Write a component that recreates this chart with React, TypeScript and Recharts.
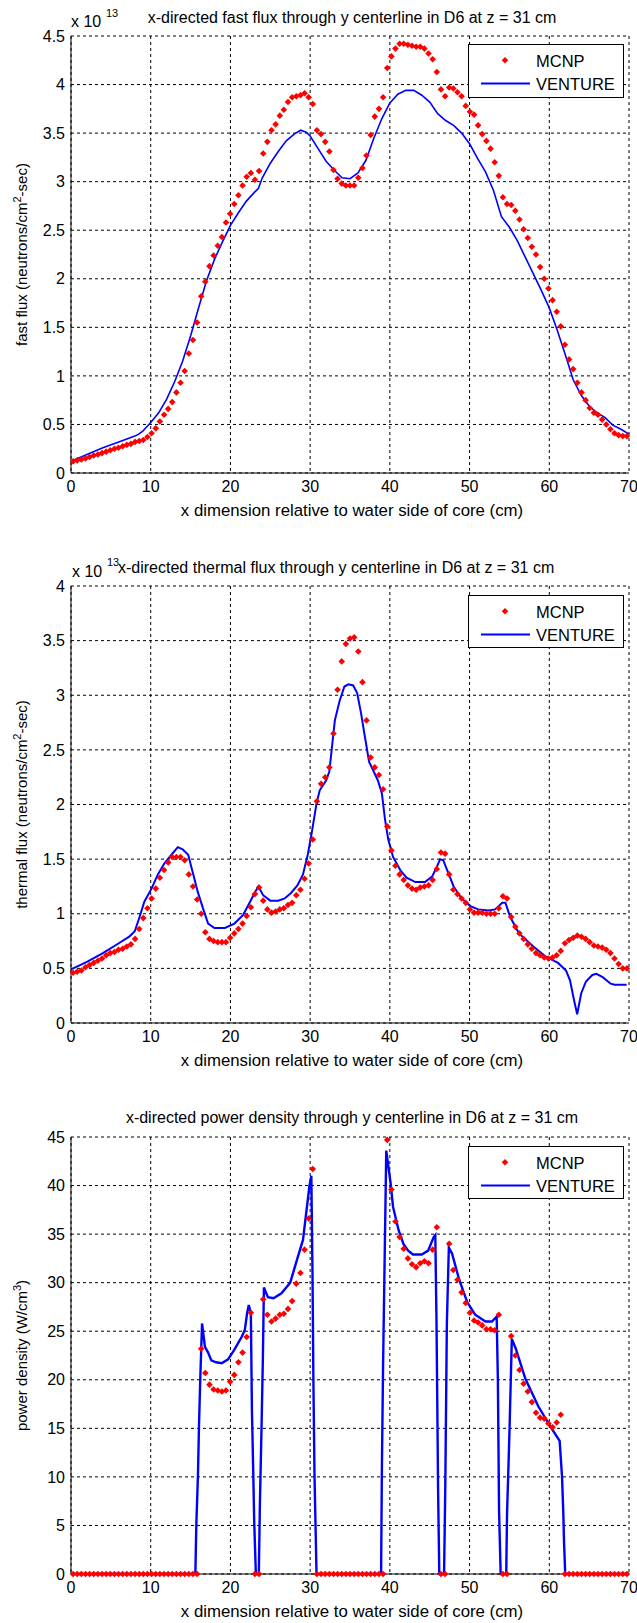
import React from "react";
import { ComposedChart, Line, Scatter, XAxis, YAxis, CartesianGrid, Legend } from "recharts";

// MCNP tally mesh (cm), shared by the three panels
const MCNP_X = [
  0.26, 0.78, 1.30, 1.82, 2.33, 2.85, 3.37, 3.89, 4.41, 4.93,
  5.45, 5.96, 6.48, 7.00, 7.52, 8.04, 8.56, 9.07, 9.59, 10.11,
  10.63, 11.15, 11.67, 12.19, 12.70, 13.22, 13.74, 14.26, 14.78, 15.30,
  15.82, 16.33, 16.85, 17.37, 17.89, 18.41, 18.93, 19.44, 19.96, 20.48,
  21.00, 21.52, 22.04, 22.56, 23.07, 23.59, 24.11, 24.63, 25.15, 25.67,
  26.19, 26.70, 27.22, 27.74, 28.26, 28.78, 29.30, 29.81, 30.33, 30.85,
  31.37, 31.89, 32.41, 32.93, 33.44, 33.96, 34.48, 35.00, 35.52, 36.04,
  36.56, 37.07, 37.59, 38.11, 38.63, 39.15, 39.67, 40.19, 40.70, 41.22,
  41.74, 42.26, 42.78, 43.30, 43.81, 44.33, 44.85, 45.37, 45.89, 46.41,
  46.93, 47.44, 47.96, 48.48, 49.00, 49.52, 50.04, 50.56, 51.07, 51.59,
  52.11, 52.63, 53.15, 53.67, 54.18, 54.70, 55.22, 55.74, 56.26, 56.78,
  57.30, 57.81, 58.33, 58.85, 59.37, 59.89, 60.41, 60.93, 61.44, 61.96,
  62.48, 63.00, 63.52, 64.04, 64.56, 65.07, 65.59, 66.11, 66.63, 67.15,
  67.67, 68.18, 68.70, 69.22, 69.74,
];

// fast flux, x 1e13
const FAST_MCNP = [
  0.12, 0.13, 0.14, 0.15, 0.165, 0.18, 0.19, 0.205, 0.22, 0.235,
  0.25, 0.26, 0.275, 0.29, 0.30, 0.32, 0.33, 0.34, 0.37, 0.41,
  0.46, 0.53, 0.60, 0.66, 0.73, 0.83, 0.93, 1.05, 1.23, 1.37,
  1.55, 1.82, 1.97, 2.13, 2.24, 2.34, 2.43, 2.58, 2.67, 2.77,
  2.86, 2.96, 3.05, 3.09, 3.02, 3.11, 3.29, 3.41, 3.53, 3.59,
  3.68, 3.74, 3.82, 3.87, 3.88, 3.89, 3.91, 3.87, 3.80, 3.53,
  3.49, 3.41, 3.31, 3.12, 3.03, 2.98, 2.96, 2.96, 2.96, 3.04,
  3.14, 3.27, 3.48, 3.67, 3.75, 3.87, 4.17, 4.29, 4.37, 4.42,
  4.42, 4.41, 4.40, 4.39, 4.39, 4.37, 4.32, 4.26, 4.13, 3.95,
  3.88, 3.97, 3.96, 3.92, 3.88, 3.78, 3.72, 3.69, 3.58, 3.49,
  3.42, 3.34, 3.20, 3.06, 2.84, 2.77, 2.76, 2.70, 2.61, 2.51,
  2.42, 2.33, 2.25, 2.12, 2.00, 1.90, 1.78, 1.66, 1.51, 1.32,
  1.17, 1.07, 0.93, 0.83, 0.75, 0.67, 0.62, 0.60, 0.55, 0.50,
  0.45, 0.41, 0.39, 0.38, 0.38,
];
const FAST_V_X = [
  0, 2, 4, 6, 7, 8, 8.5, 9, 10, 11, 12, 13, 14, 15, 16, 17, 18, 19, 20, 21, 22, 23, 23.5,
  24, 25, 26, 27, 28, 28.8, 29.5, 30, 31, 32, 33, 34, 35, 36, 37, 38, 39, 40, 41, 42, 43,
  44, 45, 46, 47, 48, 49, 50, 51, 52, 53, 54, 55, 56, 57, 58, 59, 60, 61, 62, 63, 64, 65,
  66, 67, 68, 69, 70,
];
const FAST_V_Y = [
  0.12, 0.19, 0.26, 0.32, 0.35, 0.38, 0.40, 0.43, 0.52, 0.62, 0.76, 0.94, 1.15, 1.41, 1.70,
  1.98, 2.20, 2.38, 2.55, 2.68, 2.80, 2.89, 2.93, 3.04, 3.19, 3.31, 3.42, 3.49, 3.53, 3.51,
  3.47, 3.34, 3.21, 3.12, 3.04, 3.03, 3.09, 3.22, 3.45, 3.65, 3.81, 3.90, 3.94, 3.94, 3.89,
  3.82, 3.70, 3.63, 3.58, 3.50, 3.39, 3.24, 3.10, 2.91, 2.64, 2.53, 2.39, 2.22, 2.05, 1.88,
  1.70, 1.47, 1.22, 0.96, 0.80, 0.69, 0.62, 0.57, 0.49, 0.45, 0.40,
];

// thermal flux, x 1e13
const THERMAL_MCNP = [
  0.46, 0.47, 0.48, 0.51, 0.53, 0.55, 0.57, 0.59, 0.62, 0.64,
  0.65, 0.67, 0.68, 0.70, 0.72, 0.77, 0.86, 0.96, 1.05, 1.14,
  1.23, 1.33, 1.40, 1.47, 1.52, 1.52, 1.52, 1.49, 1.36, 1.25,
  1.13, 1.00, 0.83, 0.77, 0.75, 0.74, 0.74, 0.74, 0.78, 0.82,
  0.86, 0.91, 0.98, 1.06, 1.18, 1.24, 1.12, 1.04, 1.01, 1.02,
  1.04, 1.05, 1.08, 1.10, 1.17, 1.22, 1.32, 1.46, 1.68, 2.03,
  2.19, 2.25, 2.34, 2.65, 3.05, 3.31, 3.47, 3.52, 3.53, 3.40,
  3.12, 2.77, 2.43, 2.34, 2.27, 2.14, 1.80, 1.58, 1.44, 1.36,
  1.31, 1.26, 1.23, 1.22, 1.24, 1.25, 1.26, 1.31, 1.41, 1.56,
  1.55, 1.36, 1.22, 1.18, 1.14, 1.10, 1.04, 1.01, 1.01, 1.01,
  1.00, 1.00, 1.00, 1.05, 1.16, 1.14, 0.97, 0.88, 0.82, 0.77,
  0.72, 0.68, 0.64, 0.62, 0.60, 0.59, 0.60, 0.62, 0.66, 0.73,
  0.76, 0.78, 0.80, 0.79, 0.77, 0.74, 0.71, 0.70, 0.69, 0.67,
  0.64, 0.59, 0.54, 0.50, 0.50,
];
const THERMAL_V_X = [
  0, 2, 4, 6, 7.3, 8, 8.6, 9.2, 10.1, 10.9, 11.7, 12.6, 13.4, 14.0, 14.7, 15.3, 15.9, 16.6,
  17.2, 18.0, 19.3, 20.5, 21.6, 22.4, 23.1, 23.5, 24.1, 25.0, 26.0, 26.8, 27.6, 28.4, 29.1,
  29.7, 30.2, 30.8, 31.2, 32.0, 32.4, 32.7, 33.1, 33.7, 34.3, 34.8, 35.4, 35.9, 36.4, 36.8,
  37.4, 37.8, 38.5, 39.0, 39.4, 39.8, 40.4, 41.3, 42.1, 43.2, 44.4, 45.3, 45.9, 46.3, 46.7,
  47.4, 48.0, 49.0, 50.1, 51.1, 52.4, 53.2, 54.1, 54.5, 55.1, 56.2, 58.0, 59.5, 61.1, 62.1,
  62.6, 63.1, 63.5, 64.0, 64.6, 65.4, 65.9, 66.7, 67.7, 68.2, 69.7,
];
const THERMAL_V_Y = [
  0.49, 0.56, 0.64, 0.73, 0.79, 0.84, 0.97, 1.11, 1.23, 1.36, 1.46, 1.54, 1.61, 1.59, 1.54,
  1.37, 1.20, 1.04, 0.91, 0.87, 0.87, 0.91, 0.99, 1.10, 1.20, 1.25, 1.17, 1.12, 1.12, 1.14,
  1.19, 1.26, 1.36, 1.54, 1.74, 2.01, 2.13, 2.22, 2.30, 2.50, 2.77, 2.95, 3.08, 3.10, 3.09,
  3.02, 2.83, 2.65, 2.39, 2.33, 2.22, 2.10, 1.86, 1.68, 1.52, 1.40, 1.33, 1.29, 1.29, 1.34,
  1.43, 1.50, 1.49, 1.36, 1.25, 1.14, 1.07, 1.04, 1.03, 1.04, 1.10, 1.10, 0.97, 0.82, 0.70,
  0.61, 0.55, 0.48, 0.39, 0.21, 0.08, 0.27, 0.38, 0.44, 0.45, 0.42, 0.36, 0.35, 0.35,
];

// power density, W/cm^3
const POWER_MCNP = [
  0, 0, 0, 0, 0, 0, 0, 0, 0, 0,
  0, 0, 0, 0, 0, 0, 0, 0, 0, 0,
  0, 0, 0, 0, 0, 0, 0, 0, 0, 0,
  0, 23.2, 20.7, 19.5, 19.0, 18.9, 18.8, 18.9, 19.8, 20.5,
  21.8, 22.8, 24.4, 26.9, 0, 0, 28.3, 26.7, 26.0, 26.3,
  26.7, 26.8, 27.3, 28.1, 29.9, 31.0, 33.4, 36.6, 41.7, 0,
  0, 0, 0, 0, 0, 0, 0, 0, 0, 0,
  0, 0, 0, 0, 0, 0, 44.7, 39.6, 36.3, 34.7,
  33.5, 32.5, 31.9, 31.6, 32.0, 32.2, 32.0, 33.4, 35.7, 0,
  0, 34.0, 31.3, 30.3, 29.0, 27.9, 26.9, 26.1, 25.9, 25.6,
  25.2, 25.2, 25.1, 26.7, 0, 0, 24.5, 22.5, 21.0, 19.6,
  18.8, 17.7, 16.6, 16.1, 16.0, 15.5, 15.1, 15.6, 16.4, 0,
  0, 0, 0, 0, 0, 0, 0, 0, 0, 0,
  0, 0, 0, 0, 0,
];
const POWER_V_X = [
  0, 15.6, 15.72, 15.93, 16.06, 16.23, 16.44, 16.8, 17.2, 17.6, 18.2, 18.9, 19.7, 20.5, 21.4,
  21.8, 22.1, 22.3, 22.56, 22.7, 22.85, 22.98, 23.19, 23.56, 23.7, 23.9, 24.07, 24.2, 24.7,
  25.4, 26.4, 27.5, 28.4, 29.1, 29.7, 29.9, 30.15, 30.3, 30.4, 30.55, 30.8, 38.9, 39.0,
  39.15, 39.35, 39.55, 40.1, 40.4, 41.1, 41.7, 42.3, 42.9, 44.0, 44.8, 45.5, 45.7, 45.85,
  45.95, 46.05, 46.2, 46.8, 46.95, 47.15, 47.4, 47.8, 48.7, 49.7, 50.7, 52.0, 52.8, 53.4,
  53.55, 53.7, 53.9, 54.6, 54.7, 55.0, 55.3, 55.8, 57.0, 58.6, 60.2, 61.3, 61.6, 61.75,
  61.85, 62.0, 70,
];
const POWER_V_Y = [
  0, 0, 5.0, 10.3, 15.4, 20.5, 25.8, 23.4, 22.8, 22.0, 21.8, 21.7, 22.1, 23.1, 24.4,
  25.1, 26.9, 27.7, 26.9, 16.7, 11.0, 5.5, 0, 0, 7.4, 15.0, 22.2, 29.5, 28.5,
  28.4, 28.9, 30.0, 32.5, 34.4, 38.5, 39.9, 41.0, 30.7, 20.5, 10.0, 0, 0, 10.8,
  21.5, 32.7, 43.6, 40.2, 37.8, 35.4, 34.0, 33.3, 32.9, 32.9, 33.3, 34.7, 34.9, 26.1,
  17.6, 8.7, 0, 0, 8.7, 25.8, 33.6, 33.0, 30.3, 28.0, 26.7, 26.0, 26.0, 26.5,
  20.0, 6.5, 0, 0, 6.2, 14.5, 24.2, 23.2, 20.1, 17.3, 15.1, 13.7, 10.0, 6.5,
  3.3, 0, 0,
];

const X_TICKS = [0, 10, 20, 30, 40, 50, 60, 70];
const FAST_TICKS = [0, 0.5, 1, 1.5, 2, 2.5, 3, 3.5, 4, 4.5];
const THERMAL_TICKS = [0, 0.5, 1, 1.5, 2, 2.5, 3, 3.5, 4];
const POWER_TICKS = [0, 5, 10, 15, 20, 25, 30, 35, 40, 45];

const FONT = "'Liberation Sans', Arial, Helvetica, sans-serif";
const txt = { fontFamily: FONT, fontSize: 15, fill: "#000" };
const tickTxt = { fontFamily: FONT, fontSize: 16, fill: "#000" };

const pairs = (xs: number[], ys: number[]) => xs.map((x, i) => ({ x, y: ys[i] }));

const Diamond = (props: any) => {
  const { cx, cy } = props;
  if (cx == null || cy == null) return null;
  const r = 3.3;
  return <path d={`M${cx},${cy - r}L${cx + r},${cy}L${cx},${cy + r}L${cx - r},${cy}Z`} fill="#ff0000" />;
};

const LegendBox = ({ h }: { h: number }) => (
  <div style={{ width: 156, height: h, border: "1px solid #000", background: "#fff", boxSizing: "border-box" }}>
    <svg width={154} height={h - 2} style={{ display: "block" }}>
      <path d="M36,12L39.3,15.3L36,18.6L32.7,15.3Z" fill="#ff0000" />
      <line x1={12} x2={61} y1={38.5} y2={38.5} stroke="#0000ff" strokeWidth={2} />
      <text x={67} y={21.5} fontFamily={FONT} fontSize={16.5} fill="#000">MCNP</text>
      <text x={67} y={44.5} fontFamily={FONT} fontSize={16.5} fill="#000">VENTURE</text>
    </svg>
  </div>
);

type PanelProps = {
  top: number;
  height: number;
  marginTop: number;
  xAxisHeight: number;
  yMax: number;
  yTicks: number[];
  mcnp: { x: number; y: number }[];
  venture: { x: number; y: number }[];
  lineWidth: number;
  legendTop: number;
  legendH: number;
  title: React.ReactNode;
  yLabel: (mid: number) => React.ReactNode;
};

function Panel(p: PanelProps) {
  const plotBottom = p.height - p.xAxisHeight;
  const mid = (p.marginTop + plotBottom) / 2;
  return (
    <div style={{ position: "absolute", left: 0, top: p.top }}>
      <ComposedChart width={637} height={p.height} margin={{ top: p.marginTop, right: 8, bottom: 0, left: 0 }}>
        <CartesianGrid stroke="#000" strokeDasharray="3 3" />
        <XAxis
          dataKey="x"
          type="number"
          domain={[0, 70]}
          ticks={X_TICKS}
          height={p.xAxisHeight}
          tickSize={0}
          tickMargin={8}
          tickLine={false}
          axisLine={{ stroke: "#000" }}
          tick={{ ...tickTxt }}
          label={{
            content: () => (
              <g>
                {p.title}
                <text x={352} y={plotBottom + 43} textAnchor="middle" {...txt} fontSize={16.8}>
                  x dimension relative to water side of core (cm)
                </text>
              </g>
            ),
          }}
        />
        <XAxis
          xAxisId="top"
          orientation="top"
          type="number"
          domain={[0, 70]}
          height={0}
          tick={false}
          tickLine={false}
          axisLine={{ stroke: "#000" }}
        />
        <YAxis
          type="number"
          domain={[0, p.yMax]}
          ticks={p.yTicks}
          width={71}
          tickSize={0}
          tickMargin={6}
          tickLine={false}
          axisLine={{ stroke: "#000" }}
          tick={{ ...tickTxt }}
          label={{ content: () => p.yLabel(mid) }}
        />
        <YAxis
          yAxisId="right"
          orientation="right"
          type="number"
          domain={[0, p.yMax]}
          width={0}
          tick={false}
          tickLine={false}
          axisLine={{ stroke: "#000" }}
        />
        <Scatter data={p.mcnp} dataKey="y" shape={Diamond} isAnimationActive={false} />
        <Line
          data={p.venture}
          dataKey="y"
          type="linear"
          stroke="#0000ff"
          strokeWidth={p.lineWidth}
          dot={false}
          activeDot={false}
          isAnimationActive={false}
        />
        <Legend
          layout="horizontal"
          verticalAlign="middle"
          align="center"
          content={() => <LegendBox h={p.legendH} />}
          wrapperStyle={{ left: 468, top: p.legendTop, width: 156, height: p.legendH }}
        />
      </ComposedChart>
    </div>
  );
}

const rotated = (mid: number, main: string, sup: string, tail: string) => (
  <text x={27} y={mid} transform={`rotate(-90 27 ${mid})`} textAnchor="middle" {...txt}>
    {main}
    <tspan dy={-6} fontSize={11}>{sup}</tspan>
    <tspan dy={6}>{tail}</tspan>
  </text>
);

export default function App() {
  return (
    <div style={{ position: "absolute", left: 0, top: 0, width: 637, height: 1623, background: "#fff", fontFamily: FONT }}>
      <Panel
        top={0}
        height={540}
        marginTop={36}
        xAxisHeight={67}
        yMax={4.5}
        yTicks={FAST_TICKS}
        mcnp={pairs(MCNP_X, FAST_MCNP)}
        venture={pairs(FAST_V_X, FAST_V_Y)}
        lineWidth={1.6}
        legendTop={44}
        legendH={54}
        title={
          <g>
            <text x={71} y={27} {...txt} fontSize={16}>x 10</text>
            <text x={106} y={17} {...txt} fontSize={11}>13</text>
            <text x={352} y={23} textAnchor="middle" {...txt} fontSize={16}>
              x-directed fast flux through y centerline in D6 at z = 31 cm
            </text>
          </g>
        }
        yLabel={(mid) => rotated(mid, "fast flux (neutrons/cm", "2", "-sec)")}
      />
      <Panel
        top={540}
        height={540}
        marginTop={46}
        xAxisHeight={57}
        yMax={4}
        yTicks={THERMAL_TICKS}
        mcnp={pairs(MCNP_X, THERMAL_MCNP)}
        venture={pairs(THERMAL_V_X, THERMAL_V_Y)}
        lineWidth={2}
        legendTop={55}
        legendH={53}
        title={
          <g>
            <text x={72} y={37} {...txt} fontSize={16}>x 10</text>
            <text x={107} y={26} {...txt} fontSize={11}>13</text>
            <text x={118} y={33} {...txt} fontSize={16}>
              x-directed thermal flux through y centerline in D6 at z = 31 cm
            </text>
          </g>
        }
        yLabel={(mid) => rotated(mid, "thermal flux (neutrons/cm", "2", "-sec)")}
      />
      <Panel
        top={1080}
        height={543}
        marginTop={57}
        xAxisHeight={49}
        yMax={45}
        yTicks={POWER_TICKS}
        mcnp={pairs(MCNP_X, POWER_MCNP)}
        venture={pairs(POWER_V_X, POWER_V_Y)}
        lineWidth={2.4}
        legendTop={66}
        legendH={53}
        title={
          <text x={352} y={43} textAnchor="middle" {...txt} fontSize={16}>
            x-directed power density through y centerline in D6 at z = 31 cm
          </text>
        }
        yLabel={(mid) => rotated(mid, "power density (W/cm", "3", ")")}
      />
    </div>
  );
}
